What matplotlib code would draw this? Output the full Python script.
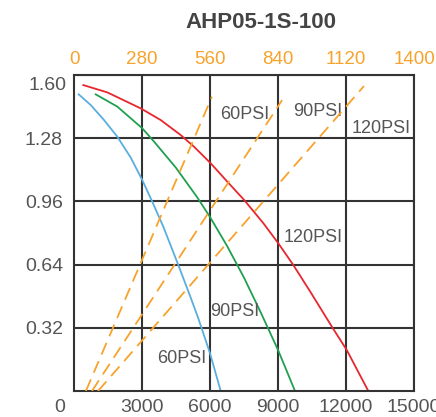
import matplotlib
matplotlib.use("Agg")
import matplotlib.pyplot as plt

plt.rcParams['font.family'] = ['Liberation Sans', 'DejaVu Sans']

# pressure curves (flow vs pressure)
blue_x = [207, 737, 1324, 1910, 2501, 3013, 3454, 3940, 4602, 5118, 5484, 6000, 6472]
blue_y = [1.502, 1.448, 1.372, 1.288, 1.182, 1.068, 0.958, 0.832, 0.638, 0.482, 0.368, 0.191, 0.0]
green_x = [957, 1910, 3013, 3529, 4500, 5440, 6000, 6750, 7500, 8250, 9000, 9750]
green_y = [1.502, 1.440, 1.330, 1.263, 1.130, 0.980, 0.881, 0.735, 0.574, 0.395, 0.208, 0.0]
red_x = [410, 1469, 2943, 3825, 4707, 5294, 6031, 6763, 7500, 8351, 9013, 9675, 10412, 11440, 12031, 12984]
red_y = [1.549, 1.512, 1.431, 1.372, 1.296, 1.237, 1.153, 1.060, 0.968, 0.850, 0.748, 0.638, 0.505, 0.314, 0.208, 0.0]

# air consumption lines (top axis)
air60_x = [49, 568]
air60_y = [0.0, 1.49]
air90_x = [74, 857]
air90_y = [0.0, 1.473]
air120_x = [99, 1194]
air120_y = [0.0, 1.544]

yticks = [0.32, 0.64, 0.96, 1.28, 1.60]
xticks = [3000, 6000, 9000, 12000, 15000]
top_ticks = [0, 280, 560, 840, 1120, 1400]

orange = '#F7A32B'
gray = '#555555'

fig = plt.figure(figsize=(4.36, 4.17), dpi=100)
ax = fig.add_axes([74/436, 1-391/417, 340/436, 316/417])

ax.plot(blue_x, blue_y, color='#5AAEDF', lw=1.3)
ax.plot(green_x, green_y, color='#1FA050', lw=1.3)
ax.plot(red_x, red_y, color='#E8262E', lw=1.3)

ax.set_xlim(0, 15000)
ax.set_ylim(0, 1.6)
ax.set_xticks(xticks)
ax.set_xticklabels([str(v) for v in xticks])
ax.set_yticks(yticks)
ax.set_yticklabels(['0.32', '0.64', '0.96', '1.28', ''])
ax.tick_params(length=0, labelsize=14, labelcolor=gray)
ax.tick_params(axis='x', pad=6)
ax.tick_params(axis='y', pad=8)
ax.grid(True, color='#333333', lw=1.5)
for s in ax.spines.values():
    s.set_color('#333333')
    s.set_linewidth(1.5)

ax.text(-8/340*15000, 1.6 - 10/316*1.6, '1.60', ha='right', va='center', fontsize=14, color=gray)
ax.text(-14/340*15000, -16/316*1.6, '0', ha='center', va='center', fontsize=14, color=gray, clip_on=False)

ax2 = ax.twiny()
ax2.set_xlim(0, 1400)
ax2.set_xticks(top_ticks)
ax2.tick_params(length=0, labelsize=13.5, labelcolor=orange, pad=5)
for s in ax2.spines.values():
    s.set_visible(False)
for xs, ys in [(air60_x, air60_y), (air90_x, air90_y), (air120_x, air120_y)]:
    ax2.plot(xs, ys, color=orange, lw=1.3, dashes=(7, 4))

lab = dict(fontsize=13, color=gray, ha='left', va='center')
ax.text(6430, 1.4, '60PSI', **lab)
ax.text(9650, 1.416, '90PSI', **lab)
ax.text(12270, 1.33, '120PSI', **lab)
ax.text(9230, 0.776, '120PSI', **lab)
ax.text(6000, 0.405, '90PSI', **lab)
ax.text(3660, 0.167, '60PSI', **lab)

fig.text(261/436, 1-22/417, 'AHP05-1S-100', ha='center', va='center',
         fontsize=16, fontweight='bold', color='#444444')

fig.savefig('out.png', dpi=100)
